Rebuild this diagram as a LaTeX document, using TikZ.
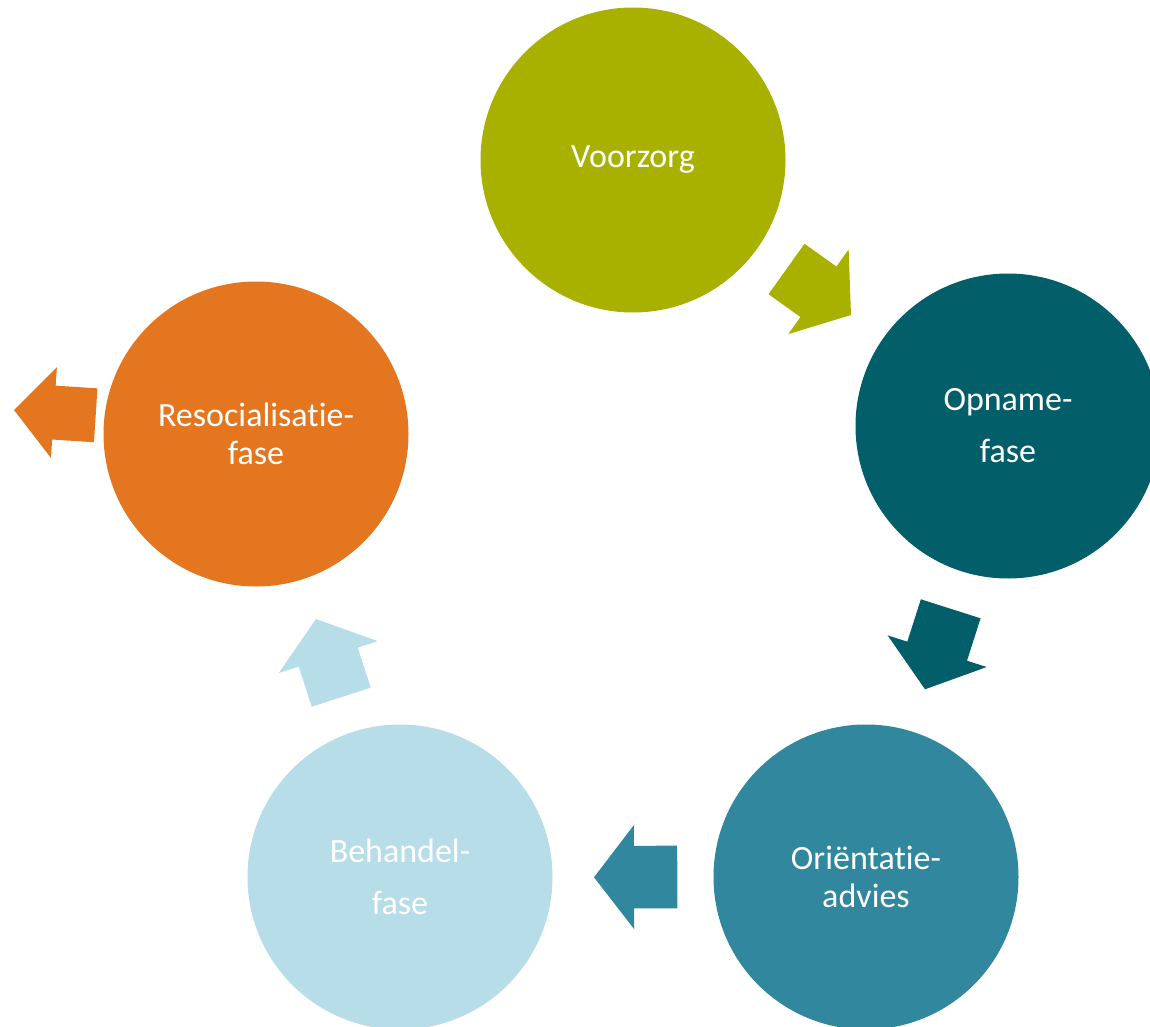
\documentclass[tikz,border=0pt]{standalone}
\usepackage{fontspec}
\setmainfont{Carlito}[Ligatures=NoCommon]
\usetikzlibrary{calc}

\definecolor{olijf}{RGB}{168,176,0}
\definecolor{petrol}{RGB}{2,94,104}
\definecolor{zeeblauw}{RGB}{49,135,158}
\definecolor{lichtblauw}{RGB}{183,221,232}
\definecolor{oranje}{RGB}{227,118,31}

\tikzset{every picture/.style={line width=0.75pt}}
\tikzset{fase/.style={circle, minimum size=228.75pt, inner sep=0pt, text=white, align=center, font=\fontsize{25.5}{39}\selectfont},
  smal/.style={font=\fontsize{25.5}{28.5}\selectfont}}

% block arrow from #1 (tail) to #2 (tip): #3 half shaft, #4 half head, #5 colour
\newcommand{\pijl}[5]{%
  \coordinate (#1b) at ($(#2)!30pt!(#1)$);
  \fill[#5] ($(#1)!#3!90:(#2)$) -- ($(#1b)!#3!-90:(#1)$) -- ($(#1b)!#4!-90:(#1)$) -- (#2) -- ($(#1b)!#4!90:(#1)$) -- ($(#1b)!#3!90:(#1)$) -- ($(#1)!#3!-90:(#2)$) -- cycle;}

\begin{document}
\begin{tikzpicture}[x=0.75pt,y=0.75pt,yscale=-1,xscale=1]
\clip (0,0) rectangle (1150,1027);
%Shape: Circle [Voorzorg]
\node[fase, fill=olijf] (voorzorg) at (633,160) {Voorzorg};
%Shape: Circle [Opname]
\node[fase, fill=petrol] (opname) at (1008,426) {Opname-\\fase};
%Shape: Circle [Orientatie]
\node[fase, smal, fill=zeeblauw] (orientatie) at (866,877) {Oriëntatie-\\advies};
%Shape: Circle [Behandel]
\node[fase, fill=lichtblauw] (behandel) at (400,877) {Behandel-\\fase};
%Shape: Circle [Resocialisatie]
\node[fase, smal, fill=oranje] (resocialisatie) at (256,434) {Resocialisatie-\\fase};

%Block Arrows
\coordinate (p1s) at (786.5,269);
\coordinate (p1e) at (851,315);
\pijl{p1s}{p1e}{23.25pt}{39pt}{olijf}
\coordinate (p2s) at (950.7,608.8);
\coordinate (p2e) at (925,689.3);
\pijl{p2s}{p2e}{23.5pt}{39pt}{petrol}
\coordinate (p3s) at (677.3,877);
\coordinate (p3e) at (594,877.3);
\pijl{p3s}{p3e}{23.5pt}{39pt}{zeeblauw}
\coordinate (p4s) at (341.2,697.2);
\coordinate (p4e) at (316,619);
\pijl{p4s}{p4e}{23.25pt}{39pt}{lichtblauw}
\coordinate (p5s) at (95.7,415.3);
\coordinate (p5e) at (14,410);
\pijl{p5s}{p5e}{20.25pt}{34.1pt}{oranje}
\end{tikzpicture}
\end{document}
